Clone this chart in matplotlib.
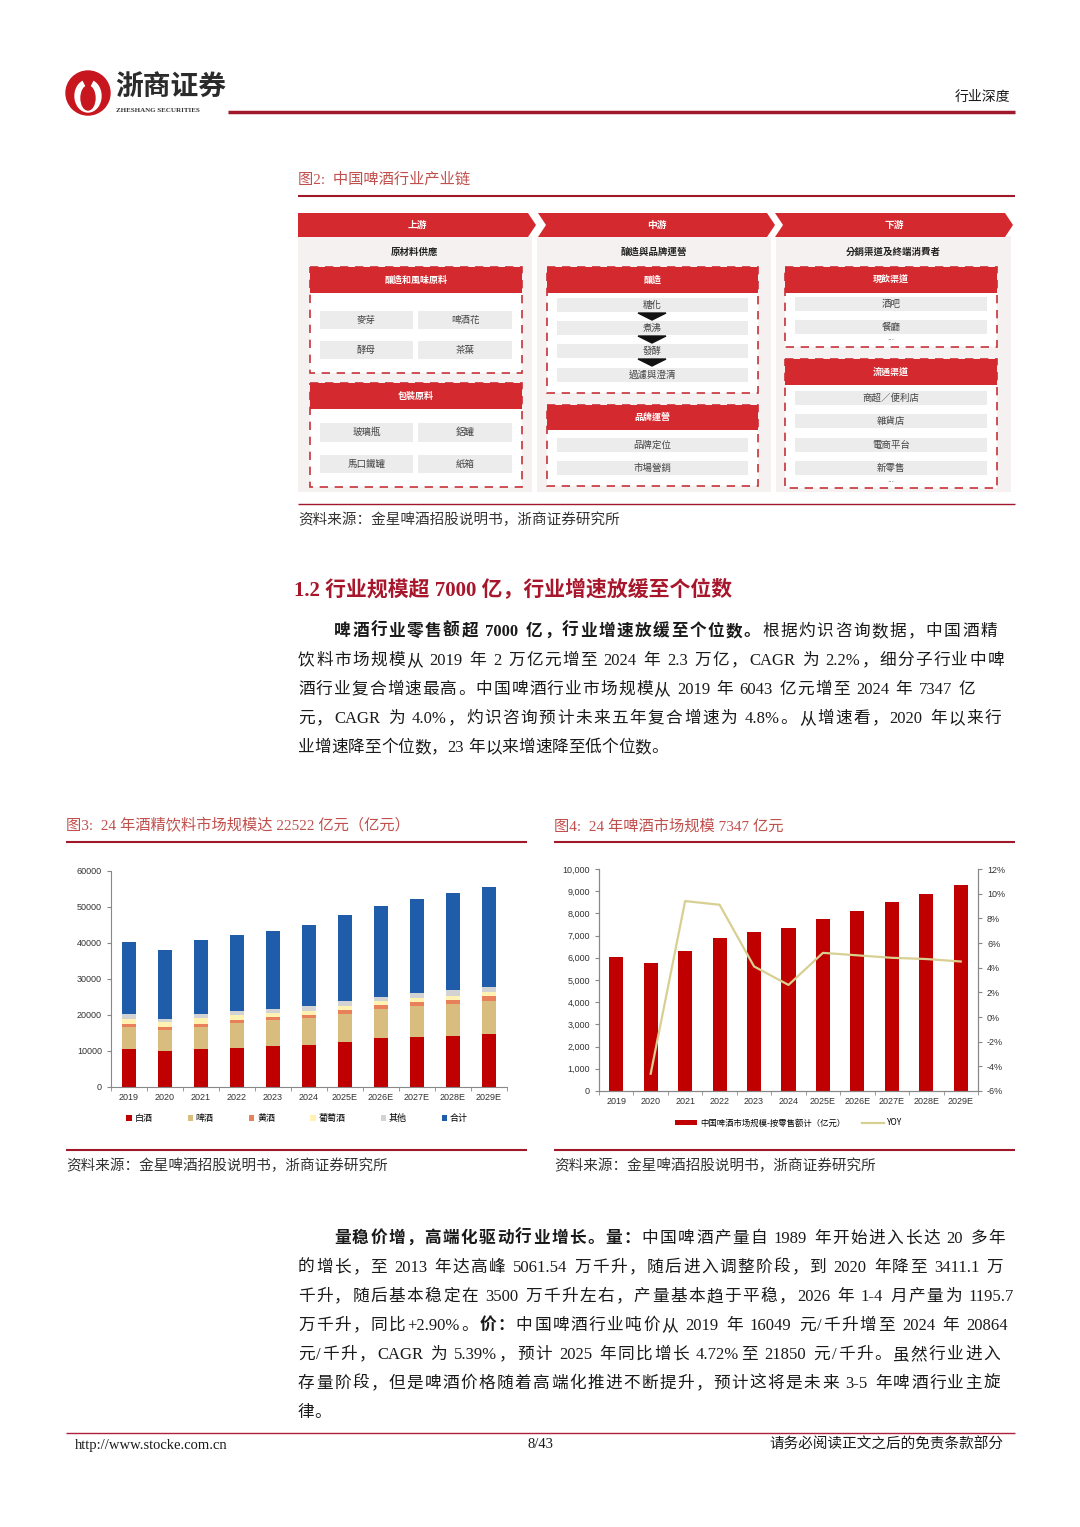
import re
import numpy as np
import matplotlib
matplotlib.use('Agg')
import matplotlib.pyplot as plt
from matplotlib.patches import Polygon, Rectangle, Circle, Ellipse
from matplotlib.ticker import FuncFormatter, FixedLocator

plt.rcParams['font.family'] = ['Liberation Sans', 'Noto Sans CJK SC']

# ---- data ----
years = ['2019', '2020', '2021', '2022', '2023', '2024',
         '2025E', '2026E', '2027E', '2028E', '2029E']

# 图3 酒精饮料市场规模（亿元）
baijiu = [10600, 10050, 10500, 10900, 11350, 11700, 12600, 13550, 14000, 14200, 14700]
huangjiu = [850, 780, 820, 850, 880, 900, 950, 1000, 1050, 1100, 1150]
wine = [1500, 1400, 1500, 1300, 1200, 1250, 1300, 1200, 1200, 1200, 1200]
others = [1177, 974, 1249, 1173, 1108, 1325, 1287, 1242, 1352, 1611, 1406]
total = [20170, 18970, 20360, 21100, 21700, 22522, 23870, 25100, 26100, 27000, 27750]

# 图4 中国啤酒市场规模（亿元）与增速
beer_market = [6043, 5766, 6291, 6877, 7162, 7347, 7733, 8108, 8498, 8889, 9294]
beer_yoy = [-4.6, 9.4, 9.1, 4.1, 2.6, 5.2, 5.0, 4.8, 4.7, 4.5]

seg_names = ['白酒', '啤酒', '黄酒', '葡萄酒', '其他', '合计']
seg_colors = ['#C00000', '#D8BD7E', '#E8805A', '#FFF2B2', '#D3D3D3', '#1F5DAA']

RED = '#D42A2F'
DARK_RED = '#A0182A'
TITLE_RED = '#C0504D'
TEXT = '#1A1A1A'
BODY_FONT = ['Liberation Serif', 'Noto Sans CJK SC']
TC_FONT = ['Noto Sans CJK TC', 'DejaVu Sans']

fig = plt.figure(figsize=(10.8, 15.27), dpi=100)
page = fig.add_axes([0, 0, 1, 1])
page.set_xlim(0, 1080)
page.set_ylim(1527, 0)
page.axis('off')
renderer = fig.canvas.get_renderer()


# ---- text helpers ----
def parse(line):
    segs = []
    for p in re.split(r'(\*\*.*?\*\*)', line):
        if not p:
            continue
        if p.startswith('**'):
            segs.append((p[2:-2], True))
        else:
            segs.append((p, False))
    return segs


TOKEN = re.compile(r'[A-Za-z0-9.%/+\-:]+| |.')
_wcache = {}


def tok_width(tok, bold, size):
    key = (tok, bold, size)
    if key not in _wcache:
        if tok == ' ':
            _wcache[key] = size * 100 / 72 * 0.25
        else:
            t = page.text(0, 0, tok, fontsize=size, family=BODY_FONT,
                          fontweight='bold' if bold else 'normal')
            _wcache[key] = t.get_window_extent(renderer).width
            t.remove()
    return _wcache[key]


def body_line(x0, x1, y, line, size=12, justify=True, color=TEXT):
    toks = []
    for text, bold in parse(line):
        for m in TOKEN.finditer(text):
            toks.append((m.group(0), bold))
    widths = [tok_width(t, b, size) for t, b in toks]
    gap = 0
    if justify and len(toks) > 1:
        gap = (x1 - x0 - sum(widths)) / (len(toks) - 1)
    x = x0
    for (t, b), w in zip(toks, widths):
        if t != ' ':
            page.text(x, y, t, fontsize=size, family=BODY_FONT, color=color,
                      fontweight='bold' if b else 'normal', ha='left', va='center')
        x += w + gap


def hline(x0, x1, y, lw=1.5, color=DARK_RED):
    page.plot([x0, x1], [y, y], color=color, lw=lw, solid_capstyle='butt')


# ---- header ----
page.add_patch(Circle((88, 93), 22, color='#C7161E'))
page.add_patch(Ellipse((88, 96), 26, 32, color='white'))
page.add_patch(Ellipse((88, 98), 14, 24, color='#C7161E'))
page.add_patch(Polygon([(80, 74), (96, 74), (88, 90)], color='#C7161E'))
page.text(115, 88, '浙商证券', fontsize=20, fontweight='bold', color='#2B2B2B',
          family=['Noto Sans CJK SC'], va='center', ha='left')
page.text(116, 110, 'ZHESHANG SECURITIES', fontsize=5, fontweight='bold',
          color='#333333', family=['Liberation Serif'], va='center', ha='left')
hline(228, 1015, 112, lw=2.5)
page.text(1010, 97, '行业深度', fontsize=10, color=TEXT, family=BODY_FONT,
          ha='right', va='center')

# ---- 图2 产业链 ----
page.text(298, 180, '图2:  中国啤酒行业产业链', fontsize=11, color=TITLE_RED,
          family=BODY_FONT, ha='left', va='center')
hline(298, 1015, 196, lw=1.5)


def chevron(x0, x1, y0, y1, notch, text):
    ym = (y0 + y1) / 2
    pts = [(x0, y0), (x1 - 8, y0), (x1, ym), (x1 - 8, y1), (x0, y1)]
    if notch:
        pts.append((x0 + 8, ym))
    page.add_patch(Polygon(pts, color=RED, lw=0))
    page.text((x0 + x1) / 2, ym, text, fontsize=7, color='white', fontweight='bold',
              family=TC_FONT, ha='center', va='center')


def group_box(x0, x1, y0, yh, y1, title):
    page.add_patch(Rectangle((x0, y0), x1 - x0, y1 - y0, facecolor='white',
                             edgecolor='#C8323A', lw=1.2, ls=(0, (5, 4))))
    page.add_patch(Rectangle((x0, y0), x1 - x0, yh - y0, facecolor=RED, lw=0))
    page.text((x0 + x1) / 2, (y0 + yh) / 2, title, fontsize=6.5, color='white',
              fontweight='bold', family=TC_FONT, ha='center', va='center')


def item(x0, x1, y0, y1, text):
    page.add_patch(Rectangle((x0, y0), x1 - x0, y1 - y0, facecolor='#ECECEC', lw=0))
    page.text((x0 + x1) / 2, (y0 + y1) / 2, text, fontsize=6.8, color='#444444',
              family=TC_FONT, ha='center', va='center')


for cx0, cx1, sub in [(298, 532, '原材料供應'), (537, 771, '釀造與品牌運營'),
                      (776, 1011, '分銷渠道及終端消費者')]:
    page.add_patch(Rectangle((cx0, 236), cx1 - cx0, 256, facecolor='#F6F1F1', lw=0))
    page.text((cx0 + cx1) / 2, 252, sub, fontsize=6.8, color='#222222',
              fontweight='bold', family=TC_FONT, ha='center', va='center')

chevron(298, 536, 213, 237, False, '上游')
chevron(538, 775, 213, 237, True, '中游')
chevron(775, 1013, 213, 237, True, '下游')

# upstream
group_box(310, 522, 267, 293, 373, '釀造和風味原料')
item(320, 413, 311, 329, '麥芽')
item(418, 512, 311, 329, '啤酒花')
item(320, 413, 341, 359, '酵母')
item(418, 512, 341, 359, '茶葉')
group_box(310, 522, 383, 409, 487, '包裝原料')
item(320, 413, 423, 442, '玻璃瓶')
item(418, 512, 423, 442, '鋁罐')
item(320, 413, 455, 473, '馬口鐵罐')
item(418, 512, 455, 473, '紙箱')

# midstream
group_box(547, 758, 267, 293, 393, '釀造')
steps = [('糖化', 298, 312), ('煮沸', 321, 335), ('發酵', 344, 358), ('過濾與澄清', 368, 382)]
for name, a, b in steps:
    item(557, 748, a, b, name)
for ya in [317, 340, 363]:
    page.add_patch(Polygon([(638, ya - 4), (666, ya - 4), (652, ya + 3)], color='#111111'))
group_box(547, 758, 405, 430, 486, '品牌運營')
item(557, 748, 438, 452, '品牌定位')
item(557, 748, 461, 475, '市場營銷')

# downstream
group_box(785, 997, 267, 293, 347, '現飲渠道')
item(795, 987, 297, 311, '酒吧')
item(795, 987, 320, 334, '餐廳')
page.text(891, 339, '...', fontsize=6, color='#666666', ha='center', va='center')
group_box(785, 997, 359, 385, 488, '流通渠道')
for name, a in [('商超／便利店', 391), ('雜貨店', 414), ('電商平台', 438), ('新零售', 461)]:
    item(795, 987, a, a + 14, name)
page.text(891, 481, '...', fontsize=6, color='#666666', ha='center', va='center')

hline(298, 1015, 504, lw=1.0)
page.text(298, 520, '资料来源：金星啤酒招股说明书，浙商证券研究所', fontsize=10.5,
          color='#333333', family=BODY_FONT, ha='left', va='center')

# ---- section 1.2 ----
page.text(294, 590, '1.2 行业规模超 7000 亿，行业增速放缓至个位数', fontsize=15,
          fontweight='bold', color='#A8162B', family=BODY_FONT, ha='left', va='center')

para1 = [
    (334, 997, '**啤酒行业零售额超 7000 亿，行业增速放缓至个位数。**根据灼识咨询数据，中国酒精', True),
    (298, 1004, '饮料市场规模从 2019 年 2 万亿元增至 2024 年 2.3 万亿，CAGR 为 2.2%，细分子行业中啤', True),
    (298, 975, '酒行业复合增速最高。中国啤酒行业市场规模从 2019 年 6043 亿元增至 2024 年 7347 亿', True),
    (298, 1001, '元，CAGR 为 4.0%，灼识咨询预计未来五年复合增速为 4.8%。从增速看，2020 年以来行', True),
    (298, 1001, '业增速降至个位数，23 年以来增速降至低个位数。', False),
]
for i, (x0, x1, line, just) in enumerate(para1):
    body_line(x0, x1, 632 + 29 * i, line, justify=just)

# ---- chart titles / rules ----
page.text(66, 826, '图3:  24 年酒精饮料市场规模达 22522 亿元（亿元）', fontsize=11,
          color=TITLE_RED, family=BODY_FONT, ha='left', va='center')
page.text(554, 826, '图4:  24 年啤酒市场规模 7347 亿元', fontsize=11,
          color=TITLE_RED, family=BODY_FONT, ha='left', va='center')
hline(66, 527, 842)
hline(554, 1015, 842)
hline(66, 527, 1150)
hline(554, 1015, 1150)
for xs in [66, 554]:
    page.text(xs, 1166, '资料来源：金星啤酒招股说明书，浙商证券研究所', fontsize=10.5,
              color='#333333', family=BODY_FONT, ha='left', va='center')


def px_rect(left, right, top, bottom):
    return [left / 1080, 1 - bottom / 1527, (right - left) / 1080, (bottom - top) / 1527]


x = np.arange(len(years))

# ---- 图3 ----
ax3 = fig.add_axes(px_rect(111, 507, 871, 1087))
stack = [baijiu, beer_market, huangjiu, wine, others, total]
bottom = np.zeros(len(years))
for vals, color, name in zip(stack, seg_colors, seg_names):
    ax3.bar(x, vals, 0.39, bottom=bottom, color=color, label=name, lw=0)
    bottom += np.array(vals)
ax3.set_xlim(-0.5, len(years) - 0.5)
ax3.set_ylim(0, 60000)
ax3.set_yticks(np.arange(0, 60001, 10000))
ax3.set_xticks(x)
ax3.set_xticklabels(years)
ax3.xaxis.set_minor_locator(FixedLocator(np.arange(-0.5, len(years), 1)))
ax3.tick_params(axis='x', which='major', length=0, labelsize=6.5, colors='#333333', pad=4)
ax3.tick_params(axis='x', which='minor', length=3, color='#888888')
ax3.tick_params(axis='y', length=3, labelsize=6.5, colors='#333333', color='#888888')
for s in ['top', 'right']:
    ax3.spines[s].set_visible(False)
for s in ['left', 'bottom']:
    ax3.spines[s].set_color('#888888')
    ax3.spines[s].set_linewidth(0.8)
ax3.legend(ncol=6, loc='center', bbox_to_anchor=(0.47, -0.145), frameon=False,
           handlelength=0.6, handleheight=0.6, handletextpad=0.3,
           columnspacing=3.9, prop={'family': ['Noto Sans CJK SC'], 'size': 6.5})

# ---- 图4 ----
ax4 = fig.add_axes(px_rect(599, 978, 869, 1091))
ax4.bar(x, beer_market, 0.41, color='#C00000', lw=0,
        label='中国啤酒市场规模-按零售额计（亿元）')
ax4.set_xlim(-0.5, len(years) - 0.5)
ax4.set_ylim(0, 10000)
ax4.set_yticks(np.arange(0, 10001, 1000))
ax4.yaxis.set_major_formatter(FuncFormatter(lambda v, p: '{:,.0f}'.format(v)))
ax4.set_xticks(x)
ax4.set_xticklabels(years)
ax4.xaxis.set_minor_locator(FixedLocator(np.arange(-0.5, len(years), 1)))
ax4.tick_params(axis='x', which='major', length=0, labelsize=6.5, colors='#333333', pad=4)
ax4.tick_params(axis='x', which='minor', length=3, color='#888888')
ax4.tick_params(axis='y', length=3, labelsize=6.5, colors='#333333', color='#888888')
ax4r = ax4.twinx()
ax4r.plot(x[1:], np.array(beer_yoy) / 100, color='#D8CF92', lw=1.6, label='YOY')
ax4r.set_ylim(-0.06, 0.12)
ax4r.set_yticks(np.arange(-0.06, 0.1201, 0.02))
ax4r.yaxis.set_major_formatter(FuncFormatter(lambda v, p: '{:.0f}%'.format(v * 100)))
ax4r.tick_params(axis='y', length=3, labelsize=6.5, colors='#333333', color='#888888')
for a in [ax4, ax4r]:
    a.spines['top'].set_visible(False)
    for s in ['left', 'right', 'bottom']:
        a.spines[s].set_color('#888888')
        a.spines[s].set_linewidth(0.8)
h1, l1 = ax4.get_legend_handles_labels()
h2, l2 = ax4r.get_legend_handles_labels()
ax4.legend(h1 + h2, l1 + l2, ncol=2, loc='center', bbox_to_anchor=(0.5, -0.144),
           frameon=False, handlelength=2.6, handleheight=0.5, handletextpad=0.4,
           columnspacing=2.0, prop={'family': ['Noto Sans CJK SC'], 'size': 6})

# ---- paragraph 2 ----
para2 = [
    (334, 1005, '**量稳价增，高端化驱动行业增长。量：**中国啤酒产量自 1989 年开始进入长达 20 多年', True),
    (298, 1003, '的增长，至 2013 年达高峰 5061.54 万千升，随后进入调整阶段，到 2020 年降至 3411.1 万', True),
    (298, 1014, '千升，随后基本稳定在 3500 万千升左右，产量基本趋于平稳，2026 年 1-4 月产量为 1195.7', True),
    (298, 1008, '万千升，同比+2.90%。**价：**中国啤酒行业吨价从 2019 年 16049 元/千升增至 2024 年 20864', True),
    (298, 1000, '元/千升，CAGR 为 5.39%，预计 2025 年同比增长 4.72%至 21850 元/千升。虽然行业进入', True),
    (298, 1000, '存量阶段，但是啤酒价格随着高端化推进不断提升，预计这将是未来 3-5 年啤酒行业主旋', True),
    (298, 1000, '律。', False),
]
for i, (x0, x1, line, just) in enumerate(para2):
    body_line(x0, x1, 1239 + 29 * i, line, justify=just)

# ---- footer ----
hline(66, 1015, 1433, lw=1.0, color='#B0203A')
page.text(75, 1445, 'http://www.stocke.com.cn', fontsize=10.5, color=TEXT,
          family=['Liberation Serif'], ha='left', va='center')
page.text(540, 1445, '8/43', fontsize=10.5, color=TEXT,
          family=['Liberation Serif'], ha='center', va='center')
page.text(1003, 1445, '请务必阅读正文之后的免责条款部分', fontsize=10.5, color=TEXT,
          family=BODY_FONT, ha='right', va='center')

fig.savefig('out.png', dpi=100, facecolor='white')
